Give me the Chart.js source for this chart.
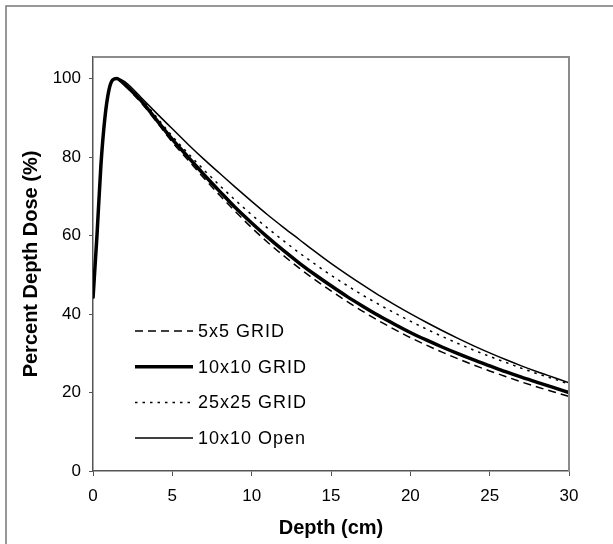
<!DOCTYPE html>
<html>
<head>
<meta charset="utf-8">
<script src="https://cdn.jsdelivr.net/npm/chart.js@4/dist/chart.umd.min.js"></script>
<style>
  body { margin: 0; background: #fff; }
</style>
</head>
<body>
<canvas id="pdd" width="613" height="544"></canvas>
<script>
const depth = [0, 0.25, 0.5, 0.75, 1, 1.25, 1.5, 1.75, 2, 2.5, 3, 4, 5, 6, 7, 8, 9, 10, 11, 12, 13, 14, 15, 16, 17, 18, 19, 20, 21, 22, 23, 24, 25, 26, 27, 28, 29, 30];
const grid5 = [44, 60, 78, 90, 97, 99.6, 100, 99.3, 98.3, 96.2, 94, 89, 83.8, 79.2, 74.6, 70.2, 66, 62, 58.3, 54.9, 51.7, 48.7, 45.9, 43.2, 40.7, 38.3, 36.1, 34, 32.1, 30.3, 28.6, 27, 25.5, 24.1, 22.7, 21.4, 20.2, 19.0];
const grid10 = [44, 60, 78, 90, 97, 99.7, 100, 99.4, 98.5, 96.6, 94.5, 89.5, 84.5, 80, 75.5, 71.2, 67, 63.2, 59.6, 56.2, 53, 50, 47.2, 44.5, 42, 39.6, 37.4, 35.3, 33.4, 31.6, 29.9, 28.3, 26.8, 25.3, 23.9, 22.6, 21.3, 20.0];
const grid25 = [44, 60, 78, 90, 97, 99.7, 100, 99.5, 98.7, 96.9, 95, 90.2, 85.3, 80.9, 76.7, 72.7, 68.9, 65.3, 61.9, 58.7, 55.6, 52.7, 49.9, 47.3, 44.8, 42.5, 40.3, 38.2, 36.2, 34.3, 32.5, 30.8, 29.2, 27.7, 26.2, 24.8, 23.5, 22.2];
const open10 = [44, 60, 78, 90, 97, 99.6, 100, 99.8, 99.2, 97.4, 95.3, 91.2, 87.2, 83.2, 79.4, 75.8, 72.2, 68.7, 65.3, 62.1, 59, 55.9, 52.9, 50.1, 47.4, 44.8, 42.4, 40.1, 37.9, 35.8, 33.8, 31.9, 30.1, 28.4, 26.8, 25.3, 23.9, 22.5];
const seriesLabels = ['5x5 GRID', '10x10 GRID', '25x25 GRID', '10x10 Open'];
const yTicks = [0, 20, 40, 60, 80, 100];
const xTicks = [0, 5, 10, 15, 20, 25, 30];

const FONT = "'Liberation Sans', Arial, sans-serif";

function pts(vals) {
    return depth.map((d, i) => ({ x: d, y: vals[i] }));
}

const lineStyles = [
    { width: 1.5, dash: [8, 5] },
    { width: 3.5, dash: [] },
    { width: 1.5, dash: [2.5, 5] },
    { width: 1.5, dash: [] }
];

const datasets = [grid5, grid10, grid25, open10].map((vals, i) => ({
    label: seriesLabels[i],
    data: pts(vals),
    borderColor: '#000',
    borderWidth: lineStyles[i].width,
    borderDash: lineStyles[i].dash,
    pointRadius: 0,
    cubicInterpolationMode: 'monotone',
    fill: false
}));

// frame, top/right plot border and the legend inside the plot
const extras = {
    id: 'extras',
    beforeDraw(chart) {
        const ctx = chart.ctx;
        ctx.save();
        ctx.strokeStyle = '#777';
        ctx.lineWidth = 1.5;
        ctx.beginPath();
        ctx.moveTo(6, 544);
        ctx.lineTo(6, 6);
        ctx.lineTo(613, 6);
        ctx.stroke();
        ctx.restore();
    },
    afterDraw(chart) {
        const ctx = chart.ctx;
        const a = chart.chartArea;
        ctx.save();
        ctx.strokeStyle = '#8c8c8c';
        ctx.lineWidth = 2;
        ctx.beginPath();
        ctx.moveTo(a.left, a.top);
        ctx.lineTo(a.right, a.top);
        ctx.lineTo(a.right, a.bottom);
        ctx.stroke();

        ctx.font = '18px ' + FONT;
        ctx.letterSpacing = '1px';
        ctx.fillStyle = '#000';
        ctx.textBaseline = 'middle';
        chart.data.datasets.forEach((ds, i) => {
            const y = 331 + i * 35.7;
            ctx.strokeStyle = '#000';
            ctx.lineWidth = ds.borderWidth;
            ctx.setLineDash(ds.borderDash);
            ctx.beginPath();
            ctx.moveTo(135, y);
            ctx.lineTo(193, y);
            ctx.stroke();
            ctx.setLineDash([]);
            ctx.fillText(ds.label, 198, y + 1);
        });
        ctx.restore();
    }
};

new Chart(document.getElementById('pdd').getContext('2d'), {
    type: 'line',
    data: { datasets: datasets },
    plugins: [extras],
    options: {
        responsive: false,
        animation: false,
        layout: { padding: { top: 57, right: 44, left: 0, bottom: 0 } },
        plugins: { legend: { display: false }, tooltip: { enabled: false } },
        scales: {
            x: {
                type: 'linear',
                min: 0,
                max: 30,
                afterBuildTicks: s => { s.ticks = xTicks.map(v => ({ value: v })); },
                afterFit: s => { s.height = 73; },
                ticks: { font: { family: FONT, size: 17 }, color: '#000', padding: 10, maxRotation: 0 },
                grid: { drawOnChartArea: false, tickLength: 5, color: '#555' },
                border: { color: '#555', width: 1.5 },
                title: {
                    display: true,
                    text: 'Depth (cm)',
                    font: { family: FONT, size: 20, weight: 'bold' },
                    color: '#000',
                    padding: { top: 0, bottom: 4 }
                }
            },
            y: {
                type: 'linear',
                min: 0,
                max: 105.5,
                afterBuildTicks: s => { s.ticks = yTicks.map(v => ({ value: v })); },
                afterFit: s => { s.width = 93; },
                ticks: { font: { family: FONT, size: 17 }, color: '#000', padding: 8 },
                grid: { drawOnChartArea: false, tickLength: 4, color: '#555' },
                border: { color: '#555', width: 1.5 },
                title: {
                    display: true,
                    text: 'Percent Depth Dose (%)',
                    font: { family: FONT, size: 20, weight: 'bold' },
                    color: '#000',
                    padding: { top: 19, bottom: 0 }
                }
            }
        }
    }
});
</script>
</body>
</html>
